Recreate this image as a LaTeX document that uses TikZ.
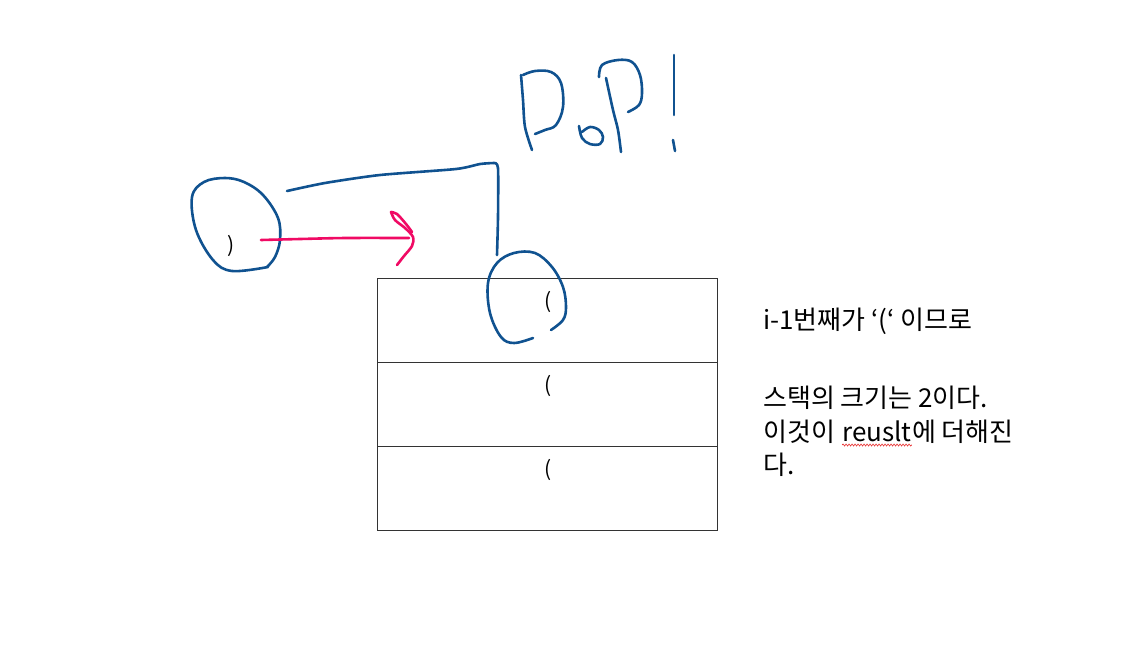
\documentclass[tikz,border=0pt]{standalone}
\usepackage{fontspec}
\setmainfont{Noto Sans CJK KR}
\usetikzlibrary{positioning}
\usetikzlibrary{decorations.pathmorphing}
\definecolor{penblue}{RGB}{16,82,144}
\definecolor{penpink}{RGB}{240,10,100}
\definecolor{spellred}{RGB}{230,40,40}

\begin{document}
\begin{tikzpicture}[x=1pt,y=-1pt,
  pen/.style={penblue,line width=2.6pt,line cap=round,line join=round},
  pinkpen/.style={penpink,line width=2.6pt,line cap=round,line join=round},
  cell/.style={draw=black!80,line width=0.9pt,minimum width=340pt,minimum height=84pt,inner sep=0pt},
  paren/.style={font=\fontsize{21}{21}\selectfont,inner sep=0pt},
  note/.style={font=\fontsize{26}{26}\selectfont,inner sep=0pt,anchor=base west},
  squiggle/.style={spellred,line width=0.6pt,decorate,decoration={snake,amplitude=1pt,segment length=3pt}}
]
\useasboundingbox (0,0) rectangle (1134,667);

% stack
\node[cell] (s1) at (547,320) {};
\node[cell] (s2) at (547,404) {};
\node[cell] (s3) at (547,488) {};
\node[paren] (p1) at (548,302) {(};
\node[paren] (p2) at (548,386) {(};
\node[paren] (p3) at (548,470) {(};
\node[paren] (cl) at (231,246) {)};

% notes
\node[note] (n1) at (763,329) {i-1번째가 ‘(‘ 이므로};
\node[note] (n2) at (763,407) {스택의 크기는 2이다.};
\node[note] (n3a) at (763,441) {이것이};
\node[note,right=7pt of n3a.base east,anchor=base west] (n3b) {reuslt};
\node[note,right=0pt of n3b.base east,anchor=base west] (n3c) {에 더해진};
\node[note] (n4) at (763,474) {다.};
\draw[squiggle] ([yshift=-4pt]n3b.base west) -- ([yshift=-4pt]n3b.base east);

% circles
\draw[pen] plot[smooth,tension=0.6] coordinates {(268,267) (232,271) (213,260) (196,230) (192,197) (204,182) (225,178) (244,182) (263,195) (278,218) (280,240) (275,257) (267,267)};
\draw[pen] plot[smooth,tension=0.6] coordinates {(533,338) (514,343) (501,337) (490,313) (488,283) (497,263) (514,253) (535,253) (552,267) (563,287) (566,307) (563,320) (551,330)};

% link
\draw[pen] plot[smooth,tension=0.4] coordinates {(287,191) (325,183) (380,175) (456,169) (480,164) (494,163)};
\draw[pen] plot[smooth,tension=0.4] coordinates {(494,163) (498,168) (498,217) (497,255)};

% pink arrow
\draw[pinkpen] plot[smooth,tension=0.5] coordinates {(261,240) (300,239) (346,238) (409,238)};
\draw[pinkpen] plot[smooth,tension=0.5] coordinates {(391,212) (395,220) (405,228) (413,237) (412,246) (404,256) (397,265)};
\draw[pinkpen] plot[smooth,tension=0.5] coordinates {(391,212) (397,214) (406,224) (412,232)};

% PoP!
\draw[pen] plot[smooth,tension=0.5] coordinates {(521,75) (523,100) (525,127) (532,150)};
\draw[pen] plot[smooth,tension=0.6] coordinates {(523,75) (535,71) (551,72) (561,83) (563,107) (556,125) (545,130) (535,134)};
\draw[pen] plot[smooth,tension=0.6] coordinates {(579,126) (582,138) (590,144) (600,144) (603,137) (599,130) (590,127) (582,132)};
\draw[pen] plot[smooth,tension=0.5] coordinates {(606,78) (613,110) (618,130) (621,152)};
\draw[pen] plot[smooth,tension=0.6] coordinates {(599,77) (602,65) (618,60) (632,62) (640,75) (642,93) (639,105) (628,112)};
\draw[pen] (674,55) -- (674,115);
\draw[pen] (673,140) -- (675,151);
\end{tikzpicture}
\end{document}
